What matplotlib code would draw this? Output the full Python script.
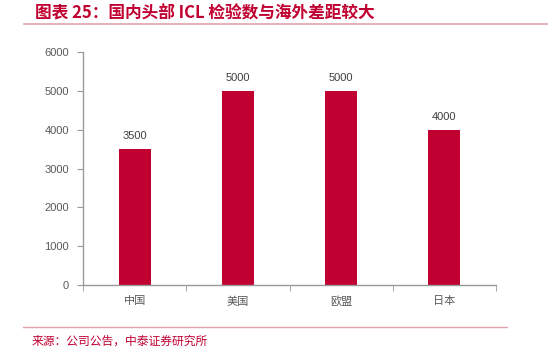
import numpy as np
import matplotlib.pyplot as plt

plt.rcParams['font.family'] = ['Noto Sans CJK SC', 'DejaVu Sans']

categories = ['中国', '美国', '欧盟', '日本']
values = [3500, 5000, 5000, 4000]
yticks = [0, 1000, 2000, 3000, 4000, 5000, 6000]

red = '#C00030'
grey = '#999999'

fig = plt.figure(figsize=(5.48, 3.55), dpi=100)
ax = fig.add_axes([83/548, 1 - 285/355, 413/548, 233/355])

x = np.arange(len(categories))
ax.bar(x, values, width=0.31, color=red)
for xi, v in zip(x, values):
    ax.text(xi, v + 200, str(v), ha='center', va='bottom', fontsize=8, color='#404040',
            family=['Liberation Sans', 'DejaVu Sans'])

ax.set_xlim(-0.5, len(categories) - 0.5)
ax.set_ylim(0, 6000)
ax.set_yticks(yticks)
ax.set_yticklabels([str(t) for t in yticks], family=['Liberation Sans', 'DejaVu Sans'])
ax.set_xticks(x)
ax.set_xticklabels(categories)
ax.set_xticks(np.arange(-0.5, len(categories)), minor=True)
ax.tick_params(axis='x', which='major', length=0, pad=8, labelsize=8, labelcolor='#595959')
ax.tick_params(axis='x', which='minor', length=4, color=grey, direction='out')
ax.tick_params(axis='y', length=4, color=grey, labelsize=8, labelcolor='#595959', pad=6)
for s in ['top', 'right']:
    ax.spines[s].set_visible(False)
for s in ['left', 'bottom']:
    ax.spines[s].set_color(grey)
    ax.spines[s].set_linewidth(1)

fig.text(35/548, 1 - 13/355, '图表 25：国内头部 ICL 检验数与海外差距较大', fontsize=12,
         fontweight='bold', color=red, va='center', ha='left')
fig.add_artist(plt.Line2D([24/548, 1], [1 - 24/355, 1 - 24/355], color='#E3A3AD', lw=1.2))
fig.add_artist(plt.Line2D([23/548, 507/548], [1 - 327/355, 1 - 327/355], color='#E3A3AD', lw=1))
fig.text(32/548, 1 - 341/355, '来源：公司公告，中泰证券研究所', fontsize=8.5, color=red,
         va='center', ha='left')

fig.savefig('out.png', dpi=100)
